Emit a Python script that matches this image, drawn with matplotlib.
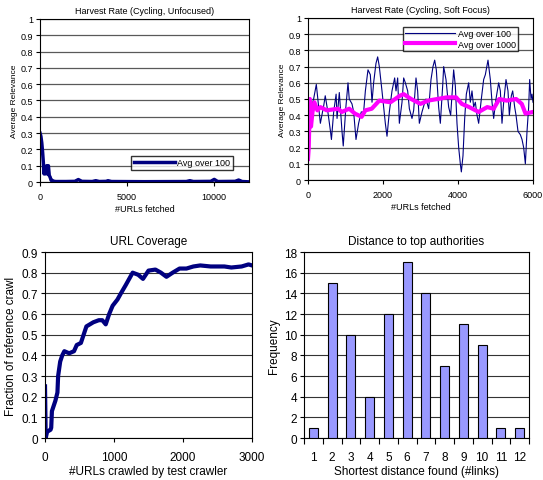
import matplotlib
matplotlib.use("Agg")
import matplotlib.pyplot as plt

plt.rcParams["font.family"] = ["Liberation Sans", "DejaVu Sans"]

# Harvest rate, unfocused (avg over 100)
unf_x = [0, 50, 100, 150, 190, 230, 270, 320, 380, 430, 480, 530, 580, 640, 700, 770, 900,
         1500, 2000, 2200, 2400, 3000, 3200, 3400, 3800, 3900, 4100, 6000, 8400, 8600, 8800,
         9800, 10000, 10200, 11200, 11400, 11600, 12000]
unf_y = [0.30, 0.28, 0.24, 0.18, 0.12, 0.05, 0.09, 0.05, 0.10, 0.05, 0.10, 0.04, 0.03, 0.01, 0.01,
         0.005, 0.003, 0.003, 0.004, 0.015, 0.004, 0.003, 0.008, 0.003, 0.004, 0.008, 0.003, 0.002,
         0.003, 0.008, 0.003, 0.004, 0.016, 0.003, 0.004, 0.012, 0.003, 0.001]

# Harvest rate, soft focus
sf100_x = [0, 60, 150, 222, 330, 420, 460, 530, 600, 625, 685, 750, 775, 835, 907, 940, 1010,
           1067, 1100, 1173, 1218, 1280, 1350, 1420, 1484, 1530, 1600, 1662, 1707, 1750, 1813,
           1858, 1902, 1973, 2018, 2062, 2107, 2169, 2240, 2311, 2347, 2391, 2436, 2507, 2551,
           2596, 2658, 2703, 2773, 2818, 2880, 2924, 2969, 3040, 3102, 3147, 3218, 3280, 3333,
           3378, 3422, 3484, 3529, 3591, 3618, 3680, 3751, 3804, 3884, 3929, 3973, 4018, 4062,
           4089, 4133, 4178, 4222, 4284, 4329, 4373, 4418, 4462, 4507, 4551, 4622, 4684, 4729,
           4800, 4862, 4907, 4951, 5013, 5084, 5129, 5173, 5218, 5280, 5333, 5369, 5422, 5458,
           5511, 5547, 5600, 5662, 5707, 5751, 5796, 5840, 5884, 5911, 5947, 5973, 6000]
sf100_y = [0.45, 0.42, 0.50, 0.59, 0.35, 0.46, 0.52, 0.42, 0.30, 0.25, 0.42, 0.53, 0.38, 0.54,
           0.30, 0.21, 0.45, 0.60, 0.50, 0.47, 0.42, 0.25, 0.35, 0.42, 0.42, 0.55, 0.68, 0.65,
           0.48, 0.60, 0.72, 0.76, 0.70, 0.55, 0.45, 0.35, 0.27, 0.42, 0.55, 0.63, 0.55, 0.63,
           0.35, 0.48, 0.63, 0.60, 0.55, 0.44, 0.38, 0.43, 0.63, 0.55, 0.35, 0.42, 0.47, 0.50,
           0.44, 0.62, 0.70, 0.74, 0.68, 0.45, 0.35, 0.58, 0.70, 0.62, 0.45, 0.40, 0.68, 0.58,
           0.35, 0.20, 0.10, 0.05, 0.15, 0.38, 0.53, 0.60, 0.48, 0.55, 0.45, 0.48, 0.40, 0.35,
           0.50, 0.62, 0.65, 0.74, 0.62, 0.48, 0.38, 0.50, 0.60, 0.55, 0.35, 0.48, 0.62, 0.55,
           0.40, 0.52, 0.55, 0.45, 0.40, 0.30, 0.28, 0.25, 0.20, 0.10, 0.30, 0.45, 0.62, 0.50,
           0.53, 0.48]
sf1000_x = [0, 20, 50, 80, 120, 170, 250, 330, 500, 800, 900, 1100, 1250, 1430, 1530, 1700,
            1900, 2200, 2450, 2550, 2750, 3000, 3200, 3450, 3700, 3950, 4100, 4300, 4550, 4780,
            4950, 5100, 5300, 5550, 5700, 5800, 6000]
sf1000_y = [0.13, 0.20, 0.50, 0.33, 0.42, 0.48, 0.43, 0.45, 0.43, 0.44, 0.42, 0.44, 0.41, 0.39,
            0.43, 0.44, 0.49, 0.48, 0.52, 0.53, 0.50, 0.47, 0.49, 0.50, 0.51, 0.51, 0.47, 0.45,
            0.42, 0.45, 0.44, 0.50, 0.49, 0.50, 0.47, 0.41, 0.42]

# URL coverage
cov_x = [0, 10, 30, 80, 90, 100, 120, 150, 180, 190, 220, 250, 280, 350, 420, 460, 520, 560,
         600, 650, 700, 780, 830, 880, 930, 980, 1050, 1100, 1170, 1220, 1270, 1350, 1420, 1500,
         1600, 1680, 1760, 1850, 1950, 2050, 2150, 2250, 2400, 2600, 2700, 2850, 2950, 3000]
cov_y = [0.25, 0.0, 0.03, 0.04, 0.05, 0.13, 0.15, 0.18, 0.22, 0.30, 0.37, 0.40, 0.42, 0.41,
         0.42, 0.45, 0.46, 0.50, 0.54, 0.55, 0.56, 0.57, 0.57, 0.55, 0.60, 0.64, 0.67, 0.70,
         0.74, 0.77, 0.80, 0.79, 0.77, 0.81, 0.815, 0.80, 0.78, 0.80, 0.82, 0.82, 0.83, 0.835,
         0.83, 0.83, 0.825, 0.83, 0.84, 0.835]

# Distance to top authorities
dist = [1, 2, 3, 4, 5, 6, 7, 8, 9, 10, 11, 12]
freq = [1, 15, 10, 4, 12, 17, 14, 7, 11, 9, 1, 1]

NAVY = "#000080"

fig = plt.figure(figsize=(5.43, 4.81), dpi=100)

def harvest_axes(ax, xmax, xticks, title):
    ax.set_xlim(0, xmax)
    ax.set_ylim(0, 1)
    ax.set_yticks([i / 10 for i in range(11)])
    ax.set_yticklabels(["0", "0.1", "0.2", "0.3", "0.4", "0.5", "0.6", "0.7", "0.8", "0.9", "1"])
    ax.set_xticks(xticks)
    ax.grid(axis="y", color="0.35", lw=0.9)
    ax.set_axisbelow(True)
    ax.tick_params(labelsize=6.5, direction="out", length=3, width=0.8, pad=2)
    ax.tick_params(axis="x", pad=4)
    ax.set_title(title, fontsize=6.5, pad=4)
    ax.set_xlabel("#URLs fetched", fontsize=6.5, labelpad=2)
    ax.set_ylabel("Average Relevance", fontsize=6, labelpad=2)

ax1 = fig.add_axes([0.0737, 0.6195, 0.385, 0.339])
ax1.plot(unf_x, unf_y, color=NAVY, lw=2.5, label="Avg over 100")
harvest_axes(ax1, 12000, [0, 5000, 10000], "Harvest Rate (Cycling, Unfocused)")
ax1.legend(loc="lower right", prop={"family": "Liberation Sans", "size": 6.5}, frameon=True,
           fancybox=False, edgecolor="black", borderpad=0.3, handlelength=4.5,
           handletextpad=0.3, bbox_to_anchor=(0.945, 0.045))

ax2 = fig.add_axes([0.5672, 0.6237, 0.4144, 0.3368])
ax2.plot(sf100_x, sf100_y, color=NAVY, lw=0.8, label="Avg over 100")
ax2.plot(sf1000_x, sf1000_y, color="#FF00FF", lw=3, label="Avg over 1000")
harvest_axes(ax2, 6000, [0, 2000, 4000, 6000], "Harvest Rate (Cycling, Soft Focus)")
ax2.legend(loc="upper right", prop={"family": "Liberation Sans", "size": 6.5}, frameon=True,
           fancybox=False, edgecolor="black", borderpad=0.3, handlelength=5.5,
           handletextpad=0.3, labelspacing=0.15, bbox_to_anchor=(0.955, 0.975))

ax3 = fig.add_axes([0.0829, 0.0873, 0.3812, 0.3867])
ax3.plot(cov_x, cov_y, color=NAVY, lw=3)
ax3.set_xlim(0, 3000)
ax3.set_ylim(0, 0.9)
ax3.set_xticks([0, 1000, 2000, 3000])
ax3.set_yticks([i / 10 for i in range(10)])
ax3.set_yticklabels(["0", "0.1", "0.2", "0.3", "0.4", "0.5", "0.6", "0.7", "0.8", "0.9"])
ax3.grid(axis="y", color="0.2", lw=0.8)
ax3.set_axisbelow(True)
ax3.tick_params(labelsize=8.5, direction="out", length=3, width=0.8, pad=2)
ax3.tick_params(axis="x", pad=6)
ax3.set_title("URL Coverage", fontsize=8.5, pad=6)
ax3.set_xlabel("#URLs crawled by test crawler", fontsize=8.5, labelpad=2)
ax3.set_ylabel("Fraction of reference crawl", fontsize=8.5, labelpad=3)

ax4 = fig.add_axes([0.5599, 0.0873, 0.4144, 0.3867])
ax4.bar(dist, freq, width=0.48, color="#9999FF", edgecolor="black", lw=0.8, zorder=3)
ax4.set_xlim(0.5, 12.5)
ax4.set_ylim(0, 18)
ax4.set_yticks(range(0, 19, 2))
ax4.set_xticks(dist)
ax4.set_xticks([i + 0.5 for i in range(0, 13)], minor=True)
ax4.tick_params(axis="x", which="major", length=0, pad=9)
ax4.tick_params(axis="x", which="minor", length=4, direction="out", width=0.8)
ax4.grid(axis="y", color="0.2", lw=0.8)
ax4.set_axisbelow(True)
ax4.tick_params(labelsize=8.5)
ax4.tick_params(axis="y", direction="out", length=3, width=0.8, pad=2)
ax4.set_title("Distance to top authorities", fontsize=8.5, pad=6)
ax4.set_xlabel("Shortest distance found (#links)", fontsize=8.5, labelpad=2)
ax4.set_ylabel("Frequency", fontsize=8.5, labelpad=3)

fig.savefig("out.png", dpi=100)
